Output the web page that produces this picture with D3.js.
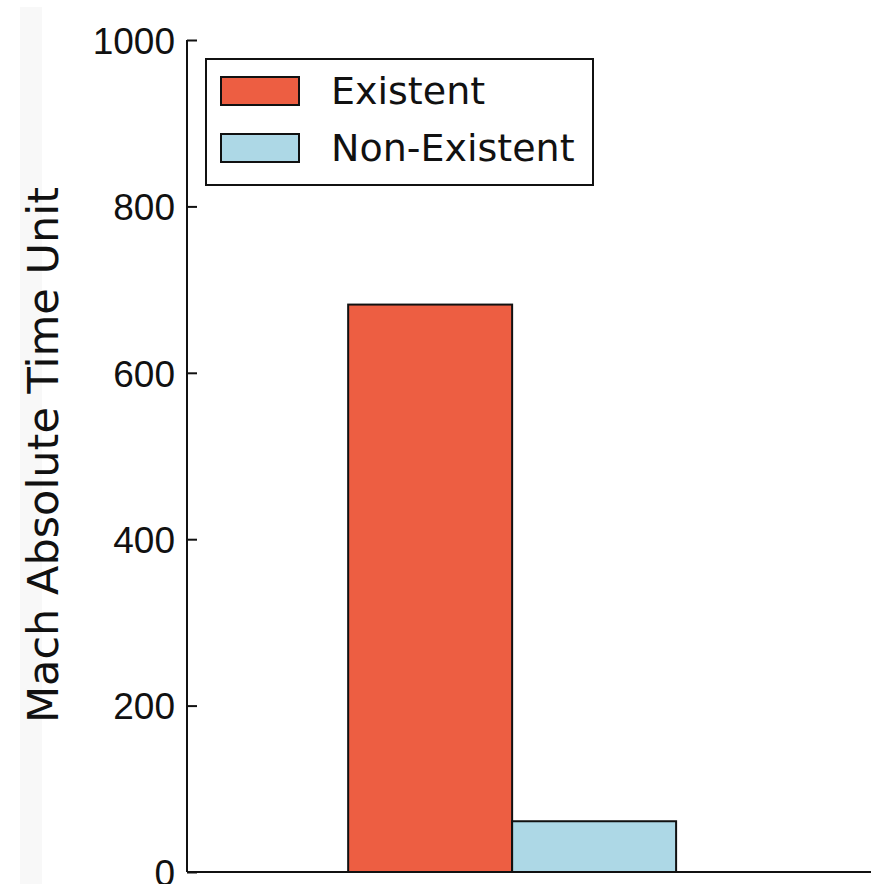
<!DOCTYPE html>
<html>
<head>
<meta charset="utf-8">
<script src="https://cdn.jsdelivr.net/npm/d3@7"></script>
<style>
  body { margin: 0; background: #fff; }
  svg { display: block; font-family: "DejaVu Sans", sans-serif; }
</style>
</head>
<body>
<svg id="chart" width="871" height="884"></svg>
<script>
// data
var series = ["Existent", "Non-Existent"];
var values = [682, 61];
var colors = ["#ed5e42", "#add8e6"];
var yTicks = [0, 200, 400, 600, 800, 1000];
var barWidth = 0.35;

var svg = d3.select("#chart");

// faint strip on the left edge
svg.append("rect")
    .attr("x", 20).attr("y", 7)
    .attr("width", 22).attr("height", 877)
    .attr("fill", "#f8f8f8");

var x = d3.scaleLinear().domain([-0.344, 1.116]).range([187, 871]);
var y = d3.scaleLinear().domain([0, 1000]).range([872, 40]);

// bars
svg.append("g")
    .selectAll("rect")
    .data(values)
    .join("rect")
    .attr("x", (d, i) => x(i * barWidth))
    .attr("y", d => y(d))
    .attr("width", x(barWidth) - x(0))
    .attr("height", d => y(0) - y(d))
    .attr("fill", (d, i) => colors[i])
    .attr("stroke", "#111")
    .attr("stroke-width", 2);

// y axis, ticks pointing inward
var yAxis = svg.append("g")
    .attr("transform", "translate(" + x.range()[0] + ",0)")
    .call(d3.axisRight(y).tickValues(yTicks).tickSize(10).tickFormat(d3.format("d")));
yAxis.select(".domain").remove();
yAxis.selectAll("line").attr("stroke", "#111").attr("stroke-width", 2);
yAxis.selectAll("text")
    .attr("x", -12)
    .attr("dy", "0.36em")
    .attr("text-anchor", "end")
    .attr("font-size", 37)
    .attr("fill", "#111");

// spines
svg.append("line")
    .attr("x1", x.range()[0]).attr("x2", x.range()[0])
    .attr("y1", y(1000)).attr("y2", y(0))
    .attr("stroke", "#111").attr("stroke-width", 2);
svg.append("line")
    .attr("x1", x.range()[0]).attr("x2", x.range()[1])
    .attr("y1", y(0)).attr("y2", y(0))
    .attr("stroke", "#111").attr("stroke-width", 2);

// y label
svg.append("text")
    .attr("transform", "translate(58,455) rotate(-90)")
    .attr("text-anchor", "middle")
    .attr("font-size", 43)
    .attr("fill", "#111")
    .text("Mach Absolute Time Unit");

// legend
var legend = svg.append("g").attr("transform", "translate(206,59)");
legend.append("rect")
    .attr("width", 387).attr("height", 126)
    .attr("fill", "#fff")
    .attr("stroke", "#111").attr("stroke-width", 2);
var items = legend.selectAll("g.item")
    .data(series)
    .join("g")
    .attr("class", "item")
    .attr("transform", (d, i) => "translate(0," + (18 + i * 57) + ")");
items.append("rect")
    .attr("x", 15).attr("width", 78).attr("height", 28)
    .attr("fill", (d, i) => colors[i])
    .attr("stroke", "#111").attr("stroke-width", 2);
items.append("text")
    .attr("x", 125).attr("y", 27)
    .attr("font-size", 38)
    .attr("fill", "#111")
    .text(d => d);
</script>
</body>
</html>
